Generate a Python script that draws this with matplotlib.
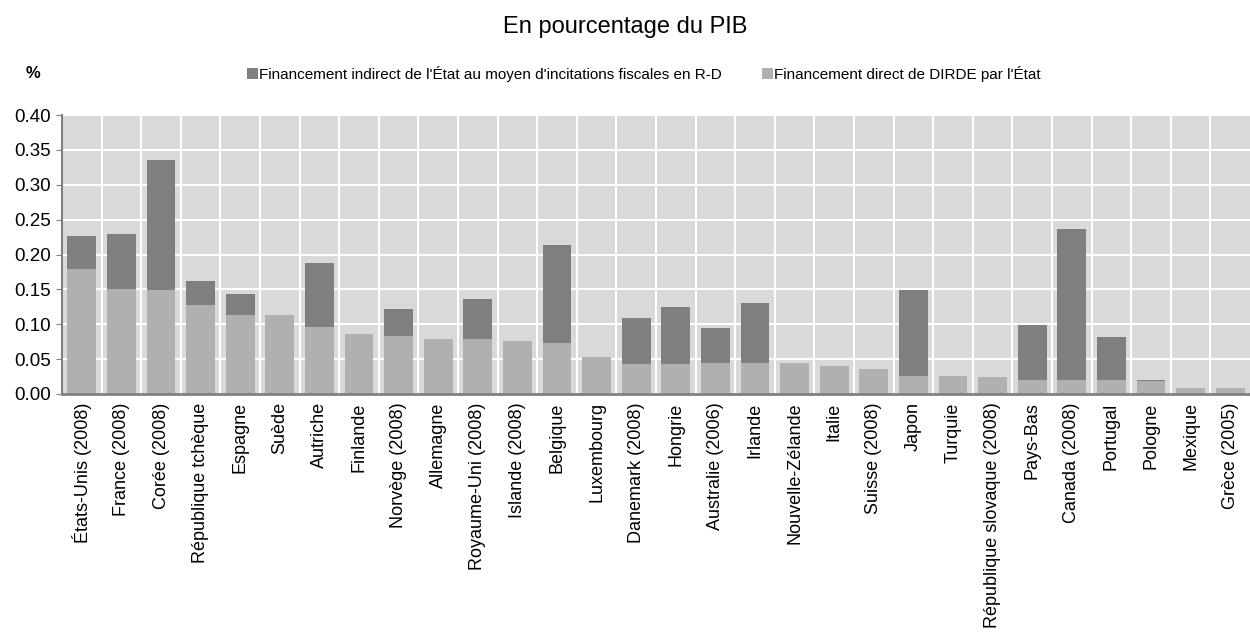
import matplotlib
matplotlib.use("Agg")
import matplotlib.pyplot as plt
import numpy as np

plt.rcParams["font.family"] = ["Liberation Sans", "DejaVu Sans"]

countries = [
    "États-Unis (2008)", "France (2008)", "Corée (2008)", "République tchèque",
    "Espagne", "Suède", "Autriche", "Finlande", "Norvège (2008)", "Allemagne",
    "Royaume-Uni (2008)", "Islande (2008)", "Belgique", "Luxembourg",
    "Danemark (2008)", "Hongrie", "Australie (2006)", "Irlande",
    "Nouvelle-Zélande", "Italie", "Suisse (2008)", "Japon", "Turquie",
    "République slovaque (2008)", "Pays-Bas", "Canada (2008)", "Portugal",
    "Pologne", "Mexique", "Grèce (2005)",
]
# direct government funding of BERD (% of GDP)
direct = [0.179, 0.150, 0.149, 0.127, 0.113, 0.113, 0.096, 0.0855, 0.0836, 0.0784,
          0.079, 0.0765, 0.0726, 0.0526, 0.043, 0.043, 0.044, 0.044, 0.045, 0.040,
          0.0358, 0.026, 0.026, 0.024, 0.020, 0.020, 0.020, 0.018, 0.009, 0.009]
# indirect funding via R&D tax incentives (% of GDP)
indirect = [0.048, 0.079, 0.187, 0.0345, 0.031, 0.0, 0.092, 0.0, 0.0384, 0.0,
            0.0567, 0.0, 0.141, 0.0, 0.066, 0.0817, 0.050, 0.0865, 0.0, 0.0,
            0.0, 0.123, 0.0, 0.0, 0.0785, 0.216, 0.0613, 0.002, 0.0, 0.0]

yticks = [0.00, 0.05, 0.10, 0.15, 0.20, 0.25, 0.30, 0.35, 0.40]

lbl_indirect = "Financement indirect de l'État au moyen d'incitations fiscales en R-D"
lbl_direct = "Financement direct de DIRDE par l'État"

fig = plt.figure(figsize=(12.5, 6.37), dpi=100)
ax = fig.add_axes([62 / 1250, 1 - 394 / 637, (1250 - 62) / 1250, (394 - 115) / 637])

x = np.arange(len(countries))
c_dir = "#b0b0b0"
c_ind = "#7f7f7f"
b1 = ax.bar(x, direct, width=0.73, color=c_dir, zorder=3)
b2 = ax.bar(x, indirect, width=0.73, bottom=direct, color=c_ind, zorder=3)

ax.set_facecolor("#d9d9d9")
ax.set_xlim(-0.5, len(countries) - 0.5)
ax.set_ylim(0, 0.40)
ax.set_yticks(yticks)
ax.set_yticklabels([f"{v:.2f}" for v in yticks], fontsize=13.5)
ax.set_xticks(x)
ax.set_xticklabels(countries, rotation=90, fontsize=13)
ax.tick_params(axis="x", length=0, pad=6)
ax.tick_params(axis="y", length=4, color="#808080", pad=4)

# white grid: horizontal at ticks, vertical between categories
for v in yticks[1:]:
    ax.axhline(v, color="white", linewidth=1.5, zorder=1)
for b in np.arange(0.5, len(countries) - 0.5, 1.0):
    ax.axvline(b, color="white", linewidth=1.5, zorder=1)

for s in ["top", "right"]:
    ax.spines[s].set_visible(False)
ax.spines["left"].set_color("#808080")
ax.spines["left"].set_linewidth(1.5)
ax.spines["bottom"].set_color("#808080")
ax.spines["bottom"].set_linewidth(2)
ax.spines["bottom"].set_zorder(4)

fig.text(0.5, 1 - 27 / 637, "En pourcentage du PIB", ha="center", va="center", fontsize=17)
fig.text(33 / 1250, 1 - 74 / 637, "%", ha="center", va="center", fontsize=12, fontweight="bold")

fig.legend([b2, b1], [lbl_indirect, lbl_direct], loc="center",
           bbox_to_anchor=(644 / 1250, 1 - 74 / 637), ncol=2, frameon=False,
           fontsize=11, handlelength=0.7, handleheight=0.7, handletextpad=0.1,
           columnspacing=2.6)

fig.savefig("out.png", dpi=100)
